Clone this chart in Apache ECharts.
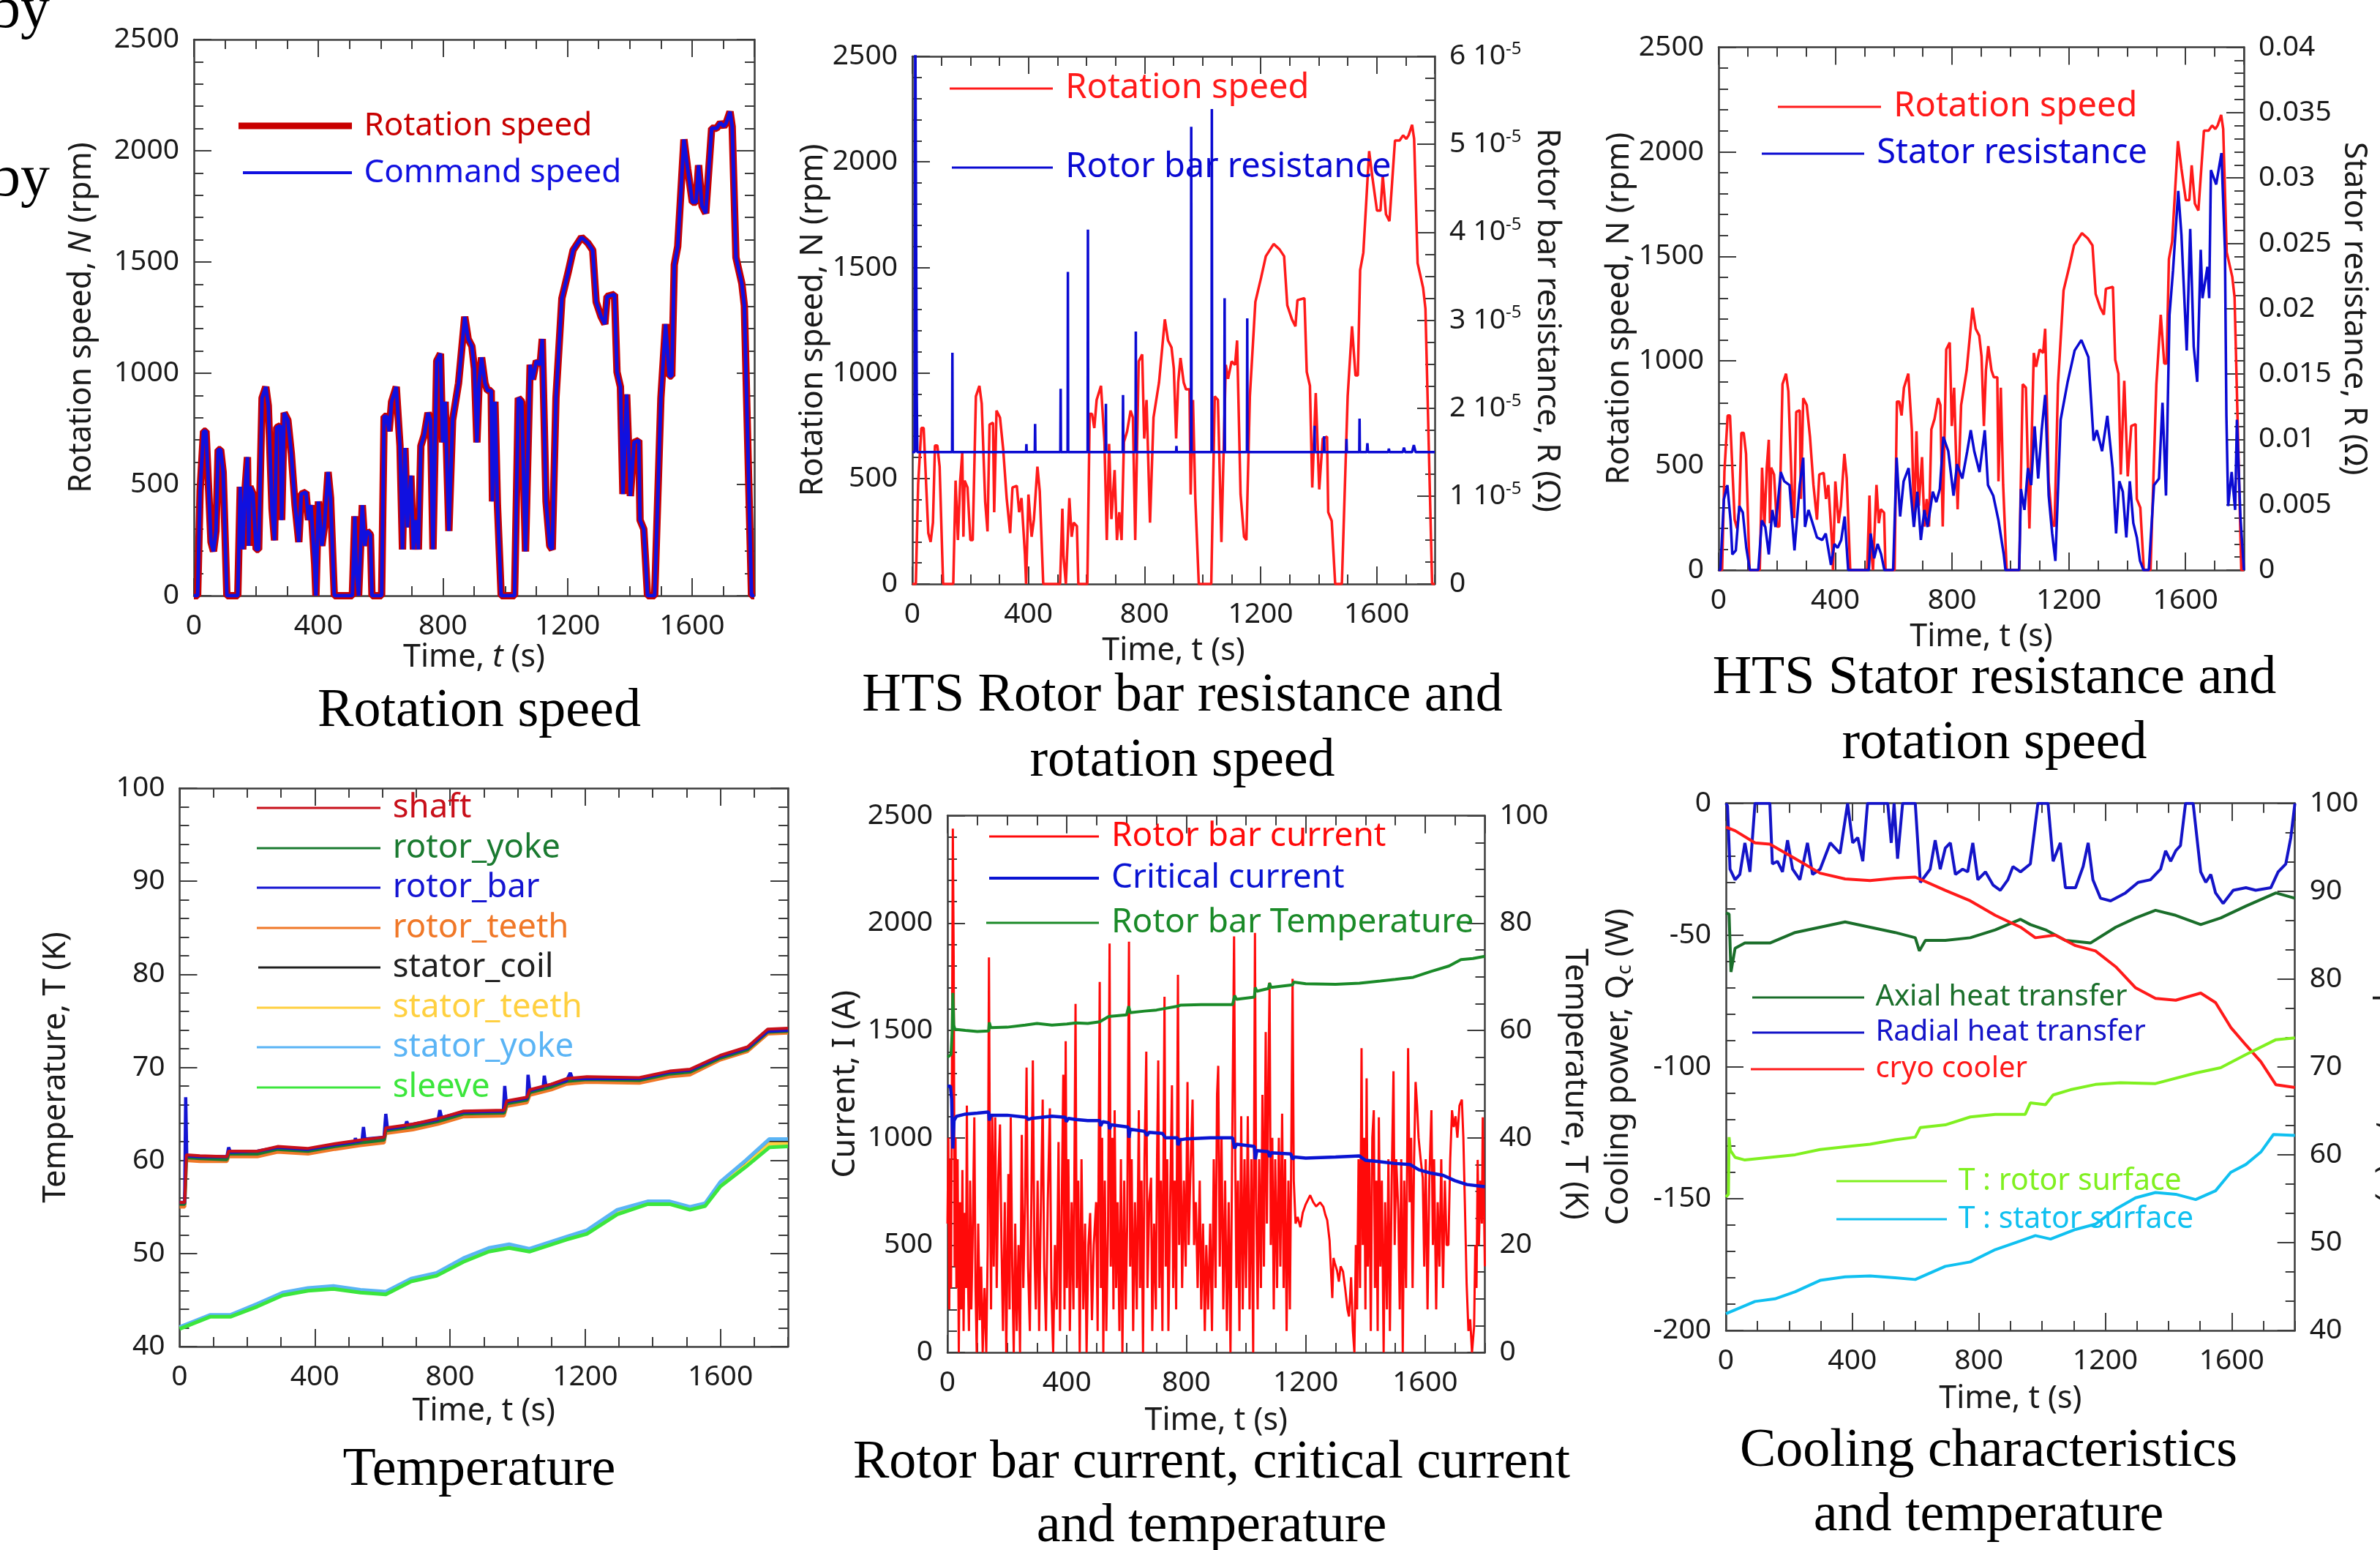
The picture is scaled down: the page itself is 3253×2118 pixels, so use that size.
<!DOCTYPE html>
<html>
<head>
<meta charset="utf-8">
<title>HTS induction motor - drive cycle results</title>
<script src="https://cdn.jsdelivr.net/npm/echarts@6/dist/echarts.min.js"></script>
<style>
  html, body { margin: 0; padding: 0; background: #fff; }
  #chart { width: 3253px; height: 2118px; }
</style>
</head>
<body>
<div id="chart"></div>
<script>
// ---- values, [time (s), value] ----

// rotation speed (rpm), shared by the three top panels
const rotationSpeed = [[0,0],[12,0],[20,473],[31,739],[39,739],[55,241],[63,199],[71,291],[78,656],[86,656],[94,556],[106,0],[141,0],[149,490],[157,208],[165,490],[172,623],[176,224],[180,490],[190,457],[200,208],[208,208],[219,889],[231,939],[239,855],[251,390],[259,249],[266,756],[278,764],[282,340],[290,822],[302,789],[313,639],[325,407],[337,241],[345,457],[360,465],[368,340],[376,407],[388,141],[392,0],[400,424],[411,224],[419,307],[431,556],[439,440],[451,0],[509,0],[517,357],[521,130],[529,0],[541,407],[549,224],[556,291],[567,274],[572,0],[603,0],[611,806],[619,806],[627,739],[635,872],[650,939],[662,673],[670,208],[678,664],[686,307],[697,540],[705,208],[713,340],[721,208],[729,673],[740,723],[752,822],[760,789],[768,208],[780,1055],[792,1088],[799,689],[807,872],[819,291],[831,789],[850,955],[870,1254],[881,1154],[893,1121],[901,1021],[909,689],[916,955],[924,1071],[935,955],[943,922],[955,922],[959,424],[967,872],[975,407],[987,0],[1030,0],[1042,889],[1053,872],[1065,199],[1080,1038],[1088,972],[1100,1055],[1112,1038],[1119,1154],[1131,424],[1143,224],[1151,208],[1163,889],[1182,1337],[1202,1453],[1218,1553],[1245,1611],[1265,1586],[1281,1553],[1292,1320],[1308,1254],[1320,1221],[1327,1345],[1351,1354],[1359,1005],[1370,939],[1378,457],[1390,905],[1402,448],[1414,689],[1429,698],[1433,340],[1445,299],[1457,0],[1480,0],[1500,889],[1515,1221],[1527,988],[1535,988],[1543,1487],[1554,1570],[1574,2051],[1586,1918],[1601,1769],[1613,1769],[1621,1935],[1632,1752],[1644,1719],[1663,2101],[1679,2101],[1691,2126],[1702,2109],[1710,2126],[1722,2176],[1729,2109],[1741,1520],[1760,1403],[1768,1304],[1791,0],[1800,0]];
// command speed lies exactly on top of the measured speed in the figure
const commandSpeed = rotationSpeed;

// rotor bar resistance (ohm): flat baseline with short spikes
const rotorBarResistance = [[0,1.5e-5],[8,1.5e-5],[10,6.5e-5],[14,6.5e-5],[15,2.2e-5],[17,1.5e-5],
  [137,1.5e-5],[138,2.63e-5],[139,1.5e-5],[392,1.5e-5],[393,1.59e-5],[394,1.5e-5],[422,1.5e-5],[423,1.82e-5],[424,1.5e-5],
  [510,1.5e-5],[511,2.22e-5],[512,1.5e-5],[535,1.5e-5],[536,3.55e-5],[537,1.5e-5],[604,1.5e-5],[605,4.03e-5],[606,1.5e-5],
  [666,1.5e-5],[667,2.05e-5],[668,1.5e-5],[725,1.5e-5],[726,2.15e-5],[727,1.5e-5],[769,1.5e-5],[770,2.87e-5],[771,1.5e-5],
  [909,1.5e-5],[910,1.57e-5],[911,1.5e-5],[960,1.5e-5],[961,5.2e-5],[962,1.5e-5],[1031,1.5e-5],[1032,5.4e-5],[1033,1.5e-5],
  [1075,1.5e-5],[1076,3.25e-5],[1077,1.5e-5],[1153,1.5e-5],[1154,3.02e-5],[1155,1.5e-5],[1385,1.5e-5],[1386,1.8e-5],[1387,1.5e-5],
  [1418,1.5e-5],[1419,1.68e-5],[1420,1.5e-5],[1495,1.5e-5],[1496,1.65e-5],[1497,1.5e-5],[1540,1.5e-5],[1541,1.88e-5],[1542,1.5e-5],
  [1566,1.5e-5],[1568,1.6e-5],[1570,1.5e-5],[1640,1.5e-5],[1642,1.54e-5],[1644,1.5e-5],[1690,1.5e-5],[1694,1.55e-5],[1698,1.5e-5],
  [1722,1.5e-5],[1728,1.58e-5],[1734,1.5e-5],[1800,1.5e-5]];

// stator resistance (ohm)
const statorResistance = [[0,0],[6,0],[18,0.0054],[30,0.0065],[41,0.0038],[47,0.0012],[59,0.0015],[71,0.0049],[83,0.0044],[95,0.0017],[107,0],[136,0],[148,0.0038],[160,0.0033],[172,0.0012],[184,0.0046],[195,0.0033],[213,0.0075],[225,0.0068],[243,0.0065],[260,0.0015],[278,0.0065],[290,0.0086],[296,0.0033],[308,0.0046],[326,0.0033],[337,0.0025],[355,0.0023],[367,0.0028],[385,0.0004],[397,0.002],[408,0.0017],[420,0.0023],[432,0.0041],[444,0],[515,0],[521,0.0028],[533,0.0009],[545,0.002],[557,0.0012],[568,0],[598,0],[610,0.0086],[622,0.0041],[634,0.0068],[651,0.0078],[669,0.0033],[681,0.006],[693,0.0023],[705,0.0046],[716,0.0033],[734,0.006],[746,0.0052],[758,0.0062],[770,0.0102],[787,0.0091],[805,0.0057],[817,0.0081],[835,0.007],[852,0.0091],[864,0.0107],[876,0.0091],[894,0.0075],[912,0.0107],[923,0.0065],[941,0.0057],[959,0.0038],[977,0.0012],[983,0],[1030,0],[1036,0.0062],[1048,0.0046],[1060,0.0078],[1071,0.0065],[1083,0.011],[1095,0.007],[1107,0.0107],[1119,0.0134],[1131,0.0057],[1143,0.0028],[1154,0.0007],[1172,0.0115],[1196,0.0144],[1220,0.0168],[1243,0.0176],[1267,0.0163],[1285,0.0099],[1296,0.0107],[1314,0.0091],[1332,0.0118],[1350,0.0078],[1362,0.0028],[1373,0.0068],[1385,0.006],[1397,0.0025],[1409,0.0068],[1421,0.0036],[1433,0.0025],[1444,0.0007],[1456,0],[1474,0],[1492,0.0065],[1509,0.007],[1521,0.0128],[1533,0.0057],[1545,0.0195],[1557,0.0229],[1575,0.029],[1586,0.0256],[1604,0.0168],[1616,0.0261],[1628,0.0171],[1640,0.0144],[1652,0.0245],[1658,0.0208],[1675,0.0232],[1681,0.0208],[1687,0.0306],[1705,0.0295],[1723,0.0319],[1735,0.0245],[1740,0.0118],[1746,0.0049],[1758,0.0075],[1770,0.0046],[1776,0.0115],[1788,0.0041],[1800,0]];

// component temperatures (K)
const tShaft = [[0,55.5],[15,55.5],[20,60.6],[60,60.5],[140,60.4],[145,61],[230,61],[290,61.5],[380,61.3],[460,61.8],[535,62.2],[605,62.5],[610,63.5],[690,63.9],[765,64.5],[840,65.3],[960,65.4],[968,66.4],[1028,66.8],[1036,67.6],[1100,68.2],[1145,68.8],[1205,69],[1360,68.9],[1450,69.6],[1510,69.8],[1600,71.3],[1680,72.2],[1740,74.1],[1800,74.2]];
const tRotorYoke = [[0,55.3],[15,55.3],[20,60.3],[60,60.2],[140,60.1],[145,60.7],[230,60.7],[290,61.2],[380,61],[460,61.5],[535,61.9],[605,62.2],[610,63.2],[690,63.6],[765,64.2],[840,65],[960,65.1],[968,66.1],[1028,66.5],[1036,67.3],[1100,67.9],[1145,68.5],[1205,68.7],[1360,68.6],[1450,69.3],[1510,69.5],[1600,71],[1680,71.9],[1740,73.8],[1800,73.9]];
const tRotorBar = [[0,55.5],[15,55.5],[18,66.8],[21,60.5],[60,60.4],[140,60.4],[145,61.4],[150,60.9],[230,61],[290,61.4],[380,61.2],[460,61.7],[518,62],[520,62.4],[524,62],[540,62.2],[544,63.6],[548,62.3],[605,62.5],[610,65],[615,63.4],[668,63.7],[672,64.2],[676,63.8],[765,64.4],[770,65.4],[775,64.6],[840,65.2],[958,65.3],[962,68],[966,66.3],[1028,66.7],[1031,69.2],[1036,67.5],[1076,67.9],[1079,69.1],[1084,68],[1145,68.6],[1156,69.4],[1162,68.8],[1360,68.8],[1450,69.5],[1510,69.7],[1600,71.2],[1680,72.1],[1740,73.9],[1800,74]];
const tRotorTeeth = [[0,55],[15,55],[20,60],[60,59.9],[140,59.9],[145,60.4],[230,60.4],[290,60.9],[380,60.7],[460,61.2],[535,61.6],[605,61.9],[610,62.9],[690,63.3],[765,63.9],[840,64.7],[960,64.8],[968,65.8],[1028,66.2],[1036,67],[1100,67.6],[1145,68.2],[1205,68.4],[1360,68.3],[1450,69],[1510,69.2],[1600,70.8],[1680,71.7],[1740,73.6],[1800,73.7]];
const tStatorCoil = [[0,42],[90,43.3],[150,43.3],[230,44.5],[305,45.7],[380,46.2],[455,46.4],[535,46],[610,45.8],[685,47.2],[760,47.8],[840,49.3],[915,50.4],[975,50.8],[1035,50.4],[1145,51.7],[1205,52.3],[1295,54.5],[1385,55.5],[1450,55.5],[1510,54.9],[1555,55.3],[1600,57.5],[1675,59.7],[1745,62],[1800,62]];
const tStatorTeeth = [[0,42],[90,43.3],[150,43.3],[230,44.4],[305,45.6],[380,46.1],[455,46.3],[535,45.9],[610,45.7],[685,47.1],[760,47.7],[840,49.2],[915,50.3],[975,50.7],[1035,50.3],[1145,51.6],[1205,52.2],[1295,54.4],[1385,55.4],[1450,55.4],[1510,54.8],[1555,55.2],[1600,57.4],[1675,59.5],[1745,61.8],[1800,61.8]];
const tStatorYoke = [[0,42.1],[90,43.4],[150,43.4],[230,44.6],[305,45.8],[380,46.3],[455,46.5],[535,46.1],[610,45.9],[685,47.3],[760,47.9],[840,49.5],[915,50.6],[975,51],[1035,50.5],[1145,51.8],[1205,52.5],[1295,54.7],[1385,55.6],[1450,55.6],[1510,55],[1555,55.4],[1600,57.7],[1675,60],[1745,62.3],[1800,62.3]];
const tSleeve = [[0,41.9],[90,43.2],[150,43.2],[230,44.3],[305,45.5],[380,46],[455,46.2],[535,45.8],[610,45.6],[685,47],[760,47.6],[840,49.1],[915,50.2],[975,50.6],[1035,50.2],[1145,51.5],[1205,52.1],[1295,54.2],[1385,55.3],[1450,55.3],[1510,54.7],[1555,55.1],[1600,57.2],[1675,59.3],[1745,61.4],[1800,61.5]];

// rotor bar current (A)
const rotorBarCurrent = [[0,600],[3,1000],[6,200],[9,900],[12,300],[15,1300],[18,2440],[21,1800],[24,400],[27,1000],[30,300],[34,900],[38,0],[42,700],[46,200],[50,850],[54,100],[58,650],[62,300],[65,1150],[68,400],[72,100],[76,800],[80,200],[84,500],[90,1095],[94,300],[98,0],[103,600],[108,150],[113,400],[118,0],[124,300],[130,0],[135,500],[139,1840],[142,900],[146,200],[150,1100],[155,400],[160,1095],[165,300],[170,800],[176,1062],[181,500],[186,100],[192,700],[197,0],[204,831],[208,200],[212,1095],[217,400],[222,0],[227,600],[232,100],[238,500],[243,0],[249,1013],[254,300],[260,700],[265,1327],[270,400],[276,100],[281,700],[286,1360],[291,500],[296,200],[302,800],[307,100],[312,600],[319,1178],[324,400],[330,100],[336,700],[343,1137],[348,300],[354,0],[360,500],[366,200],[372,980],[377,100],[382,600],[388,1294],[392,200],[396,1450],[400,300],[405,900],[410,100],[416,700],[422,200],[429,1624],[433,300],[438,800],[443,0],[449,900],[455,200],[461,600],[466,0],[472,500],[478,649],[484,150],[490,500],[498,700],[503,100],[510,1726],[514,300],[518,1000],[522,0],[527,800],[532,100],[538,600],[543,1905],[547,400],[552,1000],[556,200],[560,1128],[565,300],[570,700],[576,100],[581,900],[586,0],[592,800],[597,200],[602,600],[608,1913],[612,400],[617,900],[622,100],[628,700],[634,200],[641,1128],[645,300],[650,800],[655,0],[660,900],[666,1401],[670,300],[676,700],[682,814],[686,100],[692,600],[698,200],[702,900],[706,1360],[710,300],[715,800],[720,100],[727,1657],[731,400],[736,900],[740,100],[746,700],[752,1244],[756,300],[761,800],[766,200],[772,1759],[776,500],[781,1000],[786,300],[792,800],[798,400],[804,1260],[808,500],[813,800],[821,1178],[826,500],[832,700],[838,300],[845,800],[850,200],[856,600],[862,100],[867,500],[873,200],[880,600],[886,100],[892,900],[898,300],[903,1200],[907,1335],[912,400],[918,1000],[924,200],[930,800],[936,100],[942,700],[948,0],[954,1000],[960,1938],[964,900],[968,300],[973,800],[978,100],[984,1100],[989,200],[995,900],[1000,300],[1006,1100],[1012,200],[1018,900],[1024,0],[1030,1954],[1034,700],[1039,200],[1044,900],[1050,300],[1055,1200],[1060,400],[1066,1492],[1070,600],[1075,1300],[1079,1723],[1083,500],[1088,1000],[1093,200],[1098,900],[1104,300],[1110,1000],[1115,400],[1121,1112],[1126,300],[1131,900],[1136,100],[1142,800],[1147,200],[1152,1000],[1156,1740],[1160,800],[1166,600],[1173,631],[1182,583],[1190,650],[1200,690],[1215,732],[1225,700],[1235,680],[1248,699],[1259,678],[1266,640],[1272,616],[1280,520],[1289,253],[1293,440],[1297,418],[1305,380],[1311,330],[1317,401],[1325,376],[1332,300],[1340,200],[1345,167],[1352,350],[1358,100],[1363,0],[1368,500],[1372,200],[1377,900],[1382,300],[1387,1417],[1391,500],[1396,1000],[1400,200],[1404,1277],[1408,400],[1413,900],[1418,100],[1423,1000],[1428,1128],[1432,300],[1437,800],[1441,100],[1445,1095],[1450,400],[1455,800],[1461,0],[1466,700],[1472,200],[1477,900],[1482,100],[1488,800],[1494,1310],[1498,500],[1503,900],[1510,666],[1515,200],[1520,900],[1525,0],[1530,800],[1536,300],[1543,1417],[1548,700],[1553,1000],[1558,300],[1563,900],[1568,1260],[1573,1150],[1578,1000],[1585,900],[1592,814],[1597,400],[1602,900],[1608,200],[1614,800],[1621,1128],[1626,500],[1630,900],[1637,200],[1642,700],[1648,400],[1654,900],[1660,300],[1666,800],[1672,500],[1678,500],[1684,900],[1690,1128],[1696,1050],[1702,1100],[1708,1000],[1715,1150],[1723,1178],[1728,1000],[1733,700],[1739,319],[1745,100],[1751,154],[1757,0],[1764,120],[1768,500],[1772,300],[1776,897],[1780,500],[1785,800],[1790,600],[1793,1095],[1797,700],[1800,401]];
const criticalCurrent = [[0,1240],[10,1240],[14,1180],[18,950],[22,1080],[30,1100],[60,1110],[100,1115],[138,1120],[140,1080],[145,1105],[200,1105],[265,1095],[270,1085],[280,1090],[350,1100],[395,1095],[398,1075],[405,1090],[430,1085],[470,1080],[510,1080],[513,1055],[520,1075],[540,1070],[543,1040],[548,1060],[605,1050],[608,1000],[612,1040],[660,1030],[668,1010],[675,1025],[720,1020],[730,1000],[770,1000],[772,965],[778,990],[800,995],[880,1000],[955,1000],[962,950],[968,970],[1028,960],[1031,900],[1036,940],[1075,935],[1079,910],[1084,930],[1150,925],[1156,900],[1162,910],[1200,905],[1300,910],[1380,915],[1400,895],[1440,890],[1500,880],[1550,875],[1580,850],[1620,835],[1660,825],[1700,800],[1740,782],[1800,772]];
const rotorBarTemp = [[0,55],[12,55.5],[16,60],[18,67],[21,61],[25,60.2],[60,60],[100,59.8],[138,59.9],[140,61.5],[145,60.5],[200,60.6],[260,61],[300,61.3],[350,61],[400,61.2],[430,61.4],[470,61.3],[510,61.6],[540,62.6],[600,62.9],[607,64.5],[612,63.3],[660,63.6],[700,63.8],[770,64.5],[780,64.7],[850,64.8],[955,64.8],[962,66.5],[968,65.8],[1028,66.2],[1031,68],[1036,67.3],[1075,67.8],[1079,68.8],[1084,68],[1156,68.5],[1160,69],[1200,68.7],[1300,68.6],[1380,68.8],[1450,69.2],[1500,69.5],[1560,69.9],[1620,71],[1680,72],[1720,73.2],[1760,73.4],[1800,73.8]];

// cooling power (W) and surface temperatures (K)
const axialHeat = [[0,-41.6],[10,-42],[16,-64],[29,-55],[60,-53],[139,-53],[219,-49],[298,-47],[377,-45],[456,-47],[535,-49],[599,-51],[612,-56],[631,-52],[694,-52],[773,-51],[852,-48],[932,-44],[963,-46],[1011,-48],[1074,-52],[1153,-53],[1233,-47],[1296,-43.5],[1359,-40.6],[1423,-42.5],[1502,-46],[1565,-43.5],[1645,-39],[1740,-34],[1800,-36]];
const radialHeat = [[0,0],[5,-1],[13,-25],[29,-29],[44,-27],[60,-15],[76,-26],[92,0],[139,0],[147,-23],[163,-22],[179,-26],[195,-14],[211,-25],[234,-29],[258,-15],[274,-27],[298,-25],[330,-15],[361,-19],[385,0],[401,-15],[417,-13],[433,-22],[448,0],[512,0],[523,-15],[532,0],[543,-21],[559,0],[599,0],[615,-30],[646,-25],[662,-14],[678,-25],[694,-17],[710,-15],[726,-27],[749,-25],[765,-26],[781,-15],[797,-29],[821,-26],[845,-31],[868,-33],[892,-29],[908,-24],[932,-26],[963,-23],[987,0],[1019,0],[1035,-22],[1058,-15],[1074,-32],[1106,-32],[1130,-24],[1146,-15],[1161,-29],[1185,-36],[1217,-37],[1264,-34],[1304,-30],[1343,-29],[1375,-25],[1391,-18],[1407,-22],[1423,-18],[1438,-16],[1454,0],[1478,0],[1502,-26],[1518,-30],[1534,-27],[1549,-34],[1573,-38],[1605,-33],[1645,-32],[1676,-33],[1724,-32],[1747,-26],[1771,-23],[1787,-13],[1800,0]];
const cryoCooler = [[0,-9],[29,-10.4],[92,-15],[139,-15.5],[219,-21],[298,-26.5],[377,-28.7],[456,-29.3],[535,-28.4],[599,-28],[694,-33],[773,-37],[852,-42.5],[932,-47],[979,-51],[1042,-50],[1106,-54],[1169,-56],[1233,-62],[1296,-70],[1359,-74],[1423,-74.7],[1502,-72],[1549,-75.6],[1597,-85],[1645,-91.7],[1692,-98],[1740,-106.8],[1800,-107.8]];
const tRotorSurface = [[0,55.2],[8,55.5],[10,62],[14,60.5],[29,59.7],[60,59.4],[139,59.7],[219,60],[298,60.6],[377,60.9],[456,61.2],[535,61.7],[599,62],[615,63.1],[694,63.4],[773,64.3],[852,64.6],[947,64.6],[963,65.9],[1011,65.7],[1035,66.8],[1090,67.4],[1169,68],[1248,68.2],[1359,68.1],[1486,69.3],[1565,69.9],[1645,71.4],[1740,73.1],[1800,73.3]];
const tStatorSurface = [[0,41.9],[92,43.3],[155,43.6],[219,44.4],[298,45.7],[377,46.1],[456,46.2],[535,46],[599,45.8],[694,47.3],[773,47.8],[852,49.2],[932,50.2],[979,50.8],[1027,50.4],[1106,51.5],[1169,52.1],[1233,53.8],[1296,55.1],[1359,55.7],[1423,55.5],[1486,54.9],[1549,55.9],[1597,58],[1645,58.9],[1692,60.3],[1732,62.3],[1800,62.2]];

// ---- layout ----
const SANS = 'Noto Sans';
const SERIF = 'Liberation Serif';
const INK = '#1a1a1a';
const FRAME = '#3c3c3c';
const LABEL = { fontFamily: SANS, fontSize: 39, color: INK };
const NAME = { fontFamily: SANS, fontSize: 43, color: INK, lineHeight: 44 };
const NAME_RICH = {
    i: { fontFamily: SANS, fontSize: 43, fontStyle: 'italic', color: INK, lineHeight: 44 },
    sub: { fontFamily: SANS, fontSize: 28, color: INK, lineHeight: 20, verticalAlign: 'bottom' },
};

const plainLabel = (v) => String(v);
const sciLabel = (v) => (v === 0 ? '0' : Math.round(v * 1e5) + ' 10{sup|-5}');
const fixLabel = (v) => String(+v.toFixed(3));

const panels = [
    { left: 265, top: 54, width: 766, height: 760, xName: 'Time, {i|t} (s)', xGap: 63,
      yl: { min: 0, max: 2500, interval: 500, minor: 5, name: 'Rotation speed, {i|N} (rpm)', gap: 131 },
      yr: { min: 0, max: 2500, interval: 500, minor: 5 } },
    { left: 1247, top: 77, width: 714, height: 721, xName: 'Time, t (s)', xGap: 70,
      yl: { min: 0, max: 2500, interval: 500, minor: 5, name: 'Rotation speed, N (rpm)', gap: 112 },
      yr: { min: 0, max: 6e-5, interval: 1e-5, minor: 4, labels: true, formatter: sciLabel, name: 'Rotor bar resistance, R (Ω)', gap: 131 } },
    { left: 2349, top: 64.5, width: 718, height: 714.5, xName: 'Time, t (s)', xGap: 70,
      yl: { min: 0, max: 2500, interval: 500, minor: 5, name: 'Rotation speed, N (rpm)', gap: 112 },
      yr: { min: 0, max: 0.04, interval: 0.005, minor: 5, labels: true, formatter: fixLabel, name: 'Stator resistance, R (Ω)', gap: 128 } },
    { left: 245.5, top: 1077, width: 831.5, height: 763, xName: 'Time, t (s)', xGap: 67,
      yl: { min: 40, max: 100, interval: 10, minor: 5, name: 'Temperature, T (K)', gap: 147 },
      yr: { min: 40, max: 100, interval: 10, minor: 5 } },
    { left: 1295, top: 1114.7, width: 734.5, height: 733.3, xName: 'Time, t (s)', xGap: 72,
      yl: { min: 0, max: 2500, interval: 500, minor: 5, name: 'Current, I (A)', gap: 117 },
      yr: { min: 0, max: 100, interval: 20, minor: 4, labels: true, name: 'Temperature, T (K)', gap: 101 } },
    { left: 2359, top: 1097.7, width: 777.7, height: 720.3, xName: 'Time, t (s)', xGap: 72,
      yl: { min: -200, max: 0, interval: 50, minor: 5, name: 'Cooling power, Q{sub|c} (W)', gap: 124 },
      yr: { min: 40, max: 100, interval: 10, minor: 3, labels: true, name: 'Temperature, T (K)', gap: 108 } },
];

// [panel, right axis?, name, data, colour, width]  (drawing order)
const seriesDefs = [
    [0, false, 'Rotation speed', rotationSpeed, '#c80000', 10],
    [0, false, 'Command speed', commandSpeed, '#1010e0', 5],
    [1, false, 'Rotation speed', rotationSpeed, '#ff1a1a', 3.5],
    [1, true, 'Rotor bar resistance', rotorBarResistance, '#0a0ad2', 3.5],
    [2, false, 'Rotation speed', rotationSpeed, '#ff1a1a', 3.5],
    [2, true, 'Stator resistance', statorResistance, '#0a0ad2', 3.5],
    [3, false, 'rotor_teeth', tRotorTeeth, '#f07828', 4.5],
    [3, false, 'rotor_yoke', tRotorYoke, '#1a7a30', 4.5],
    [3, false, 'rotor_bar', tRotorBar, '#1414d2', 4.5],
    [3, false, 'shaft', tShaft, '#c8101a', 4],
    [3, false, 'stator_coil', tStatorCoil, '#202020', 4.5],
    [3, false, 'stator_teeth', tStatorTeeth, '#ffd040', 4.5],
    [3, false, 'stator_yoke', tStatorYoke, '#5ab4f5', 5],
    [3, false, 'sleeve', tSleeve, '#3ce63c', 5],
    [4, false, 'Rotor bar current', rotorBarCurrent, '#ff0a0a', 3],
    [4, false, 'Critical current', criticalCurrent, '#0a14d2', 4.5],
    [4, true, 'Rotor bar Temperature', rotorBarTemp, '#1a8a28', 4],
    [5, false, 'Axial heat transfer', axialHeat, '#1a6e2a', 4],
    [5, false, 'Radial heat transfer', radialHeat, '#1414c8', 4],
    [5, false, 'cryo cooler', cryoCooler, '#ff1a1a', 4],
    [5, true, 'T : rotor surface', tRotorSurface, '#80f020', 4],
    [5, true, 'T : stator surface', tStatorSurface, '#10c0f0', 4],
];

// legend rows: [name, colour, line start x, row centre y, line length, line width, font size]
const legendRows = [
    ['Rotation speed', '#c80000', 326, 172, 155, 9, 44],
    ['Command speed', '#1010e0', 332, 236, 149, 4, 44],
    ['Rotation speed', '#ff1a1a', 1298, 121, 141, 3, 47],
    ['Rotor bar resistance', '#0a0ad2', 1301, 229, 138, 3, 47],
    ['Rotation speed', '#ff1a1a', 2430, 146, 141, 3, 47],
    ['Stator resistance', '#0a0ad2', 2408, 210, 140, 3, 47],
    ['shaft', '#c8101a', 351, 1104, 169, 3, 45.5],
    ['rotor_yoke', '#1a7a30', 351, 1159, 169, 3, 45.5],
    ['rotor_bar', '#1414d2', 351, 1213, 169, 3, 45.5],
    ['rotor_teeth', '#f07828', 351, 1268, 169, 3, 45.5],
    ['stator_coil', '#202020', 353, 1322, 167, 3, 45.5],
    ['stator_teeth', '#ffd040', 351, 1377, 169, 3, 45.5],
    ['stator_yoke', '#5ab4f5', 351, 1431, 169, 3, 45.5],
    ['sleeve', '#3ce63c', 351, 1486, 169, 3, 45.5],
    ['Rotor bar current', '#ff0a0a', 1352, 1143, 150, 3, 46],
    ['Critical current', '#0a14d2', 1352, 1200, 150, 4, 46],
    ['Rotor bar Temperature', '#1a8a28', 1348, 1261, 154, 3, 46],
    ['Axial heat transfer', '#1a6e2a', 2395, 1363, 153, 3, 40],
    ['Radial heat transfer', '#1414c8', 2395, 1411, 153, 3, 40],
    ['cryo cooler', '#ff1a1a', 2393, 1461, 155, 3, 40],
    ['T : rotor surface', '#80f020', 2510, 1614, 151, 3, 41],
    ['T : stator surface', '#10c0f0', 2510, 1666, 151, 3, 41],
];

// captions under each panel: [text, centre x, centre y]
const captions = [
    ['Rotation speed', 655, 973],
    ['HTS Rotor bar resistance and', 1616, 952],
    ['rotation speed', 1616, 1041],
    ['HTS Stator resistance and', 2726, 928],
    ['rotation speed', 2726, 1017],
    ['Temperature', 655, 2010],
    ['Rotor bar current, critical current', 1656, 2000],
    ['and temperature', 1656, 2087],
    ['Cooling characteristics', 2718, 1984],
    ['and temperature', 2718, 2072],
];

const tick = (len) => ({ show: true, inside: true, length: len, lineStyle: { color: FRAME, width: 2 } });
const frameLine = { show: true, onZero: false, lineStyle: { color: FRAME, width: 2.5 } };
const noLine = { show: false, onZero: false };

const grids = [];
const xAxes = [];
const yAxes = [];

function yAxisFor(g, pos, o) {
    return {
        type: 'value', gridIndex: g, position: pos,
        min: o.min, max: o.max, interval: o.interval,
        splitLine: { show: false },
        axisLine: frameLine,
        axisTick: tick(24),
        minorTick: { show: true, splitNumber: o.minor, length: 13, lineStyle: { color: FRAME, width: 2 } },
        axisLabel: pos === 'left' || o.labels
            ? Object.assign({}, LABEL, { margin: 20, formatter: o.formatter || plainLabel, lineHeight: 44,
                rich: { sup: { fontFamily: SANS, fontSize: 24, color: INK, lineHeight: 20, verticalAlign: 'top' } } })
            : { show: false },
        name: o.name || '',
        nameLocation: 'middle',
        nameGap: o.gap || 0,
        nameRotate: pos === 'left' ? 90 : -90,
        nameTextStyle: Object.assign({}, NAME, { rich: NAME_RICH }),
    };
}

panels.forEach((p, g) => {
    grids.push({ left: p.left, top: p.top, width: p.width, height: p.height, show: false, outerBoundsMode: 'none' });
    const base = { type: 'value', gridIndex: g, min: 0, max: 1800, splitLine: { show: false } };
    xAxes.push(Object.assign({}, base, {
        position: 'bottom', interval: 400, axisLine: frameLine, axisTick: tick(24),
        axisLabel: Object.assign({}, LABEL, { margin: 22, showMaxLabel: false, formatter: plainLabel }),
        name: p.xName, nameLocation: 'middle', nameGap: p.xGap,
        nameTextStyle: Object.assign({}, NAME, { rich: NAME_RICH }),
    }));
    xAxes.push(Object.assign({}, base, { position: 'bottom', interval: 100, axisLine: noLine, axisTick: tick(13), axisLabel: { show: false } }));
    xAxes.push(Object.assign({}, base, { position: 'top', interval: 400, axisLine: frameLine, axisTick: tick(24), axisLabel: { show: false } }));
    xAxes.push(Object.assign({}, base, { position: 'top', interval: 100, axisLine: noLine, axisTick: tick(13), axisLabel: { show: false } }));
    yAxes.push(yAxisFor(g, 'left', p.yl));
    yAxes.push(yAxisFor(g, 'right', p.yr));
});

const series = seriesDefs.map(([g, right, name, data, color, width]) => ({
    type: 'line', name: name, data: data,
    xAxisIndex: g * 4, yAxisIndex: g * 2 + (right ? 1 : 0),
    showSymbol: false, symbol: 'none', clip: true, silent: true,
    color: color,
    lineStyle: { color: color, width: width },
}));

const legends = legendRows.map(([name, color, x, y, len, lw, fs]) => ({
    left: x, top: y - 25, padding: 0, orient: 'horizontal',
    itemWidth: len, itemHeight: lw, icon: 'rect', selectedMode: false,
    formatter: ' {name}',
    textStyle: { fontFamily: SANS, fontSize: fs, lineHeight: 50 },
    data: [{ name: name, itemStyle: { color: color, borderWidth: 0 }, textStyle: { color: color } }],
}));

const graphics = captions.map(([text, x, y]) => ({
    type: 'text', x: x, y: y, silent: true,
    style: { text: text, fill: '#000', font: '74px "' + SERIF + '"', align: 'center', verticalAlign: 'middle' },
}));
// bits of the surrounding page text cut by the crop
graphics.push({ type: 'text', x: 68, y: 16, silent: true,
    style: { text: 'by', fill: '#000', font: '80px "' + SERIF + '"', align: 'right', verticalAlign: 'middle' } });
graphics.push({ type: 'text', x: 68, y: 246, silent: true,
    style: { text: 'by', fill: '#000', font: '80px "' + SERIF + '"', align: 'right', verticalAlign: 'middle' } });

const chart = echarts.init(document.getElementById('chart'), null, { renderer: 'canvas', width: 3253, height: 2118 });
chart.setOption({
    backgroundColor: '#ffffff',
    animation: false,
    grid: grids,
    xAxis: xAxes,
    yAxis: yAxes,
    legend: legends,
    series: series,
    graphic: graphics,
});
</script>
</body>
</html>
